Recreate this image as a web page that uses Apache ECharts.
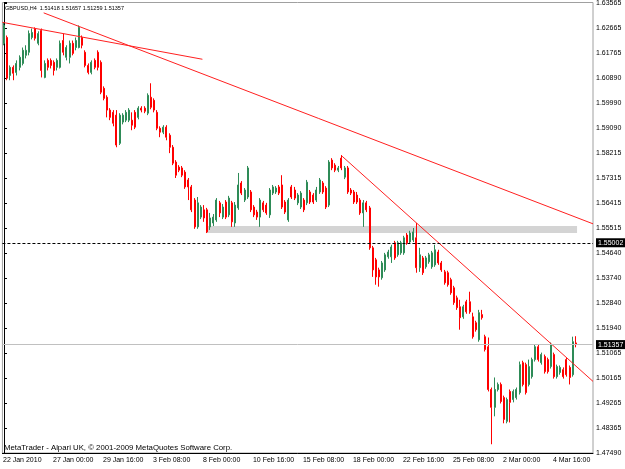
<!DOCTYPE html>
<html>
<head>
<meta charset="utf-8">
<title>GBPUSD,H4</title>
<script src="https://cdn.jsdelivr.net/npm/echarts/dist/echarts.min.js"></script>
<style>
  html, body { margin: 0; padding: 0; background: #fff; }
  #main { width: 625px; height: 469px; }
</style>
</head>
<body>
<div id="main"></div>
<script>
// H4 bars, each row: open, high, low, close
const bars = [
  [1.6214, 1.6289, 1.6207, 1.6278], [1.6235, 1.6242, 1.6082, 1.6089], [1.6099, 1.6135, 1.6082, 1.6128], [1.6128, 1.6135, 1.6082, 1.6107],
  [1.6110, 1.6153, 1.6099, 1.6142], [1.6128, 1.6171, 1.6117, 1.6164], [1.6142, 1.6199, 1.6135, 1.6189], [1.6171, 1.6207, 1.6160, 1.6189],
  [1.6182, 1.6260, 1.6171, 1.6249], [1.6235, 1.6267, 1.6228, 1.6253], [1.6267, 1.6271, 1.6224, 1.6232], [1.6214, 1.6257, 1.6207, 1.6249],
  [1.6260, 1.6267, 1.6092, 1.6117], [1.6092, 1.6153, 1.6089, 1.6142], [1.6153, 1.6160, 1.6117, 1.6128], [1.6153, 1.6160, 1.6124, 1.6135],
  [1.6146, 1.6153, 1.6099, 1.6117], [1.6128, 1.6160, 1.6117, 1.6153], [1.6128, 1.6224, 1.6124, 1.6214], [1.6224, 1.6249, 1.6171, 1.6182],
  [1.6164, 1.6207, 1.6153, 1.6199], [1.6164, 1.6224, 1.6142, 1.6214], [1.6214, 1.6224, 1.6171, 1.6178], [1.6199, 1.6235, 1.6189, 1.6224],
  [1.6199, 1.6278, 1.6196, 1.6271], [1.6235, 1.6242, 1.6196, 1.6207], [1.6182, 1.6189, 1.6128, 1.6135], [1.6135, 1.6142, 1.6103, 1.6110],
  [1.6110, 1.6153, 1.6103, 1.6146], [1.6153, 1.6160, 1.6121, 1.6128], [1.6182, 1.6189, 1.6117, 1.6128], [1.6146, 1.6153, 1.6032, 1.6039],
  [1.6053, 1.6060, 1.6010, 1.6017], [1.6021, 1.6028, 1.5949, 1.5975], [1.5975, 1.5982, 1.5939, 1.5949], [1.5967, 1.5975, 1.5917, 1.5928],
  [1.5957, 1.5975, 1.5842, 1.5850], [1.5856, 1.5964, 1.5850, 1.5957], [1.5932, 1.5964, 1.5924, 1.5957], [1.5939, 1.5975, 1.5932, 1.5967],
  [1.5939, 1.5982, 1.5932, 1.5975], [1.5939, 1.5967, 1.5903, 1.5921], [1.5967, 1.5975, 1.5907, 1.5914], [1.5949, 1.5989, 1.5942, 1.5982],
  [1.5982, 1.5989, 1.5967, 1.5975], [1.5982, 1.5989, 1.5964, 1.5971], [1.5964, 1.6035, 1.5957, 1.6028], [1.6021, 1.6071, 1.5978, 1.5985],
  [1.6010, 1.6017, 1.5967, 1.5975], [1.5967, 1.5975, 1.5903, 1.5910], [1.5910, 1.5917, 1.5878, 1.5896], [1.5896, 1.5921, 1.5889, 1.5914],
  [1.5914, 1.5921, 1.5867, 1.5878], [1.5885, 1.5892, 1.5821, 1.5842], [1.5842, 1.5850, 1.5778, 1.5785], [1.5789, 1.5796, 1.5732, 1.5742],
  [1.5771, 1.5778, 1.5753, 1.5760], [1.5768, 1.5775, 1.5735, 1.5742], [1.5753, 1.5760, 1.5693, 1.5700], [1.5725, 1.5732, 1.5653, 1.5700],
  [1.5700, 1.5707, 1.5610, 1.5618], [1.5653, 1.5660, 1.5550, 1.5557], [1.5557, 1.5664, 1.5550, 1.5643], [1.5592, 1.5635, 1.5585, 1.5628],
  [1.5618, 1.5635, 1.5575, 1.5589], [1.5618, 1.5625, 1.5535, 1.5539], [1.5557, 1.5607, 1.5546, 1.5589], [1.5571, 1.5603, 1.5560, 1.5592],
  [1.5582, 1.5660, 1.5575, 1.5653], [1.5643, 1.5650, 1.5592, 1.5607], [1.5592, 1.5639, 1.5585, 1.5628], [1.5646, 1.5653, 1.5585, 1.5592],
  [1.5600, 1.5668, 1.5592, 1.5660], [1.5643, 1.5650, 1.5557, 1.5575], [1.5571, 1.5646, 1.5557, 1.5635], [1.5625, 1.5750, 1.5618, 1.5707],
  [1.5714, 1.5721, 1.5671, 1.5678], [1.5653, 1.5696, 1.5646, 1.5689], [1.5664, 1.5775, 1.5657, 1.5768], [1.5682, 1.5689, 1.5610, 1.5618],
  [1.5628, 1.5635, 1.5592, 1.5600], [1.5610, 1.5618, 1.5582, 1.5592], [1.5592, 1.5660, 1.5557, 1.5653], [1.5643, 1.5650, 1.5610, 1.5618],
  [1.5635, 1.5643, 1.5600, 1.5607], [1.5600, 1.5696, 1.5589, 1.5689], [1.5678, 1.5707, 1.5671, 1.5700], [1.5682, 1.5703, 1.5675, 1.5696],
  [1.5700, 1.5707, 1.5671, 1.5678], [1.5707, 1.5742, 1.5621, 1.5628], [1.5646, 1.5653, 1.5603, 1.5610], [1.5582, 1.5660, 1.5575, 1.5653],
  [1.5700, 1.5707, 1.5657, 1.5664], [1.5689, 1.5700, 1.5653, 1.5660], [1.5643, 1.5678, 1.5635, 1.5671], [1.5628, 1.5685, 1.5621, 1.5678],
  [1.5653, 1.5660, 1.5610, 1.5618], [1.5643, 1.5725, 1.5635, 1.5717], [1.5682, 1.5689, 1.5639, 1.5646], [1.5671, 1.5678, 1.5639, 1.5646],
  [1.5653, 1.5700, 1.5646, 1.5689], [1.5682, 1.5732, 1.5675, 1.5725], [1.5714, 1.5721, 1.5675, 1.5682], [1.5696, 1.5703, 1.5621, 1.5628],
  [1.5635, 1.5796, 1.5628, 1.5789], [1.5796, 1.5803, 1.5760, 1.5768], [1.5778, 1.5785, 1.5753, 1.5760], [1.5760, 1.5775, 1.5753, 1.5768],
  [1.5803, 1.5814, 1.5760, 1.5768], [1.5735, 1.5775, 1.5728, 1.5768], [1.5768, 1.5775, 1.5675, 1.5682], [1.5689, 1.5696, 1.5671, 1.5678],
  [1.5682, 1.5689, 1.5639, 1.5646], [1.5671, 1.5682, 1.5639, 1.5646], [1.5653, 1.5660, 1.5600, 1.5607], [1.5607, 1.5653, 1.5557, 1.5643],
  [1.5643, 1.5650, 1.5610, 1.5618], [1.5625, 1.5632, 1.5475, 1.5482], [1.5482, 1.5489, 1.5378, 1.5403], [1.5439, 1.5446, 1.5350, 1.5378],
  [1.5403, 1.5411, 1.5343, 1.5378], [1.5375, 1.5435, 1.5368, 1.5428], [1.5403, 1.5464, 1.5396, 1.5457], [1.5450, 1.5475, 1.5443, 1.5467],
  [1.5450, 1.5493, 1.5428, 1.5485], [1.5500, 1.5507, 1.5439, 1.5446], [1.5457, 1.5507, 1.5450, 1.5500], [1.5464, 1.5507, 1.5457, 1.5500],
  [1.5464, 1.5525, 1.5457, 1.5518], [1.5528, 1.5535, 1.5493, 1.5500], [1.5503, 1.5543, 1.5496, 1.5535], [1.5510, 1.5553, 1.5503, 1.5539],
  [1.5518, 1.5571, 1.5393, 1.5411], [1.5411, 1.5482, 1.5396, 1.5457], [1.5446, 1.5453, 1.5385, 1.5393], [1.5414, 1.5453, 1.5407, 1.5446],
  [1.5432, 1.5464, 1.5425, 1.5457], [1.5414, 1.5471, 1.5407, 1.5464], [1.5421, 1.5493, 1.5414, 1.5475], [1.5467, 1.5475, 1.5421, 1.5428],
  [1.5428, 1.5435, 1.5396, 1.5403], [1.5396, 1.5403, 1.5350, 1.5357], [1.5393, 1.5400, 1.5343, 1.5350], [1.5368, 1.5375, 1.5314, 1.5321],
  [1.5339, 1.5346, 1.5278, 1.5286], [1.5303, 1.5311, 1.5260, 1.5268], [1.5271, 1.5296, 1.5189, 1.5232], [1.5235, 1.5278, 1.5228, 1.5271],
  [1.5289, 1.5296, 1.5246, 1.5253], [1.5289, 1.5325, 1.5246, 1.5253], [1.5235, 1.5250, 1.5157, 1.5164], [1.5214, 1.5221, 1.5182, 1.5189],
  [1.5153, 1.5260, 1.5146, 1.5250], [1.5243, 1.5260, 1.5225, 1.5232], [1.5164, 1.5171, 1.5111, 1.5118], [1.5128, 1.5161, 1.4968, 1.4975],
  [1.4975, 1.4982, 1.4779, 1.4911], [1.4911, 1.5018, 1.4879, 1.4975], [1.4975, 1.5000, 1.4968, 1.4993], [1.4993, 1.5000, 1.4925, 1.4932],
  [1.4946, 1.4953, 1.4854, 1.4868], [1.4861, 1.4946, 1.4854, 1.4939], [1.4968, 1.4975, 1.4857, 1.4929], [1.4939, 1.4975, 1.4929, 1.4968],
  [1.4946, 1.4982, 1.4939, 1.4975], [1.4964, 1.5075, 1.4957, 1.5064], [1.5071, 1.5078, 1.4986, 1.4993], [1.5064, 1.5071, 1.4957, 1.4964],
  [1.4993, 1.5082, 1.4986, 1.5057], [1.5021, 1.5089, 1.5014, 1.5082], [1.5082, 1.5135, 1.5075, 1.5128], [1.5128, 1.5135, 1.5075, 1.5082],
  [1.5071, 1.5107, 1.5064, 1.5100], [1.5093, 1.5100, 1.5032, 1.5039], [1.5082, 1.5089, 1.5032, 1.5039], [1.5057, 1.5143, 1.5050, 1.5135],
  [1.5100, 1.5107, 1.5014, 1.5021], [1.5021, 1.5064, 1.5014, 1.5057], [1.5036, 1.5061, 1.5028, 1.5054], [1.5046, 1.5054, 1.5014, 1.5021],
  [1.5082, 1.5089, 1.5021, 1.5028], [1.5054, 1.5061, 1.4993, 1.5018], [1.5028, 1.5164, 1.5021, 1.5146], [1.51418, 1.51657, 1.51259, 1.51357]
];

// x axis labels, one every 16 bars
const timeLabels = ["22 Jan 2010", "27 Jan 00:00", "29 Jan 16:00", "3 Feb 08:00", "8 Feb 00:00", "10 Feb 16:00",
  "15 Feb 08:00", "18 Feb 00:00", "22 Feb 16:00", "25 Feb 08:00", "2 Mar 00:00", "4 Mar 16:00"];
const labelEvery = 16;
const shiftBars = 5; // empty space right of last bar

// price scale labels, bottom to top
const priceTicks = ["1.47490", "1.48365", "1.49265", "1.50165", "1.51065", "1.51940", "1.52840", "1.53740", "1.54640",
  "1.55515", "1.56415", "1.57315", "1.58215", "1.59090", "1.59990", "1.60890", "1.61765", "1.62665", "1.63565"];
const yMin = 1.47477;
const yStep = 0.008938;
const yMax = 1.63601;

// horizontal levels
const levelLine = 1.55002;
const bidLine = 1.51357;

// trend lines [barIndex, price]
const trendLines = [
  [[-0.5, 1.6289], [63.5, 1.6157]],
  [[12.7, 1.6323], [188.5, 1.5568]],
  [[108.2, 1.5810], [188.5, 1.5004]]
];
// support zone rectangle
const zone = { from: 64.8, to: 183.4, top: 1.5560, bottom: 1.5535 };

const head = "GBPUSD,H4  1.51418 1.51657 1.51259 1.51357";
const foot = "MetaTrader - Alpari UK, \u00a9 2001-2009 MetaQuotes Software Corp.";

const nCat = bars.length + shiftBars;
const cats = [];
for (let i = 0; i < nCat; i++) {
  cats.push(i % labelEvery === 0 && timeLabels[i / labelEvery] ? timeLabels[i / labelEvery] : "");
}
const candles = bars.map(b => [b[0], b[3], b[2], b[1]]);

const font = "Liberation Sans";
const myChart = echarts.init(document.getElementById("main"));

const series = [
  {
    name: "zone",
    type: "line",
    xAxisIndex: 1,
    data: [],
    z: 1,
    markArea: {
      silent: true,
      itemStyle: { color: "#d4d4d4" },
      data: [[{ coord: [zone.from, zone.top] }, { coord: [zone.to, zone.bottom] }]]
    }
  },
  {
    name: "GBPUSD",
    type: "candlestick",
    data: candles,
    barWidth: 1.5,
    z: 3,
    itemStyle: {
      color: "#2e8b57",
      color0: "#ff0000",
      borderColor: "#2e8b57",
      borderColor0: "#ff0000",
      borderWidth: 1
    },
    markLine: {
      silent: true,
      symbol: ["none", "none"],
      precision: 5,
      animation: false,
      label: {
        position: "end",
        distance: 3,
        color: "#fff",
        backgroundColor: "#000",
        padding: [1, 2, 1, 2],
        fontSize: 7,
        fontFamily: font,
        formatter: p => Number(p.value).toFixed(5)
      },
      data: [
        { yAxis: levelLine, lineStyle: { color: "#000", type: [3, 2], width: 1 } },
        { yAxis: bidLine, lineStyle: { color: "#c0c0c0", type: "solid", width: 1 } }
      ]
    }
  }
];
trendLines.forEach(function(t) {
  series.push({
    type: "line",
    xAxisIndex: 1,
    data: t,
    symbol: "none",
    silent: true,
    z: 4,
    lineStyle: { color: "#ff2020", width: 1 }
  });
});

myChart.setOption({
  animation: false,
  backgroundColor: "#fff",
  grid: {
    left: 2,
    right: 32,
    top: 2,
    bottom: 16,
    show: true,
    borderColor: "#a0a0a0",
    borderWidth: 1,
    backgroundColor: "#fff"
  },
  xAxis: [
    {
      type: "category",
      data: cats,
      boundaryGap: true,
      axisLine: { lineStyle: { color: "#000", width: 1 } },
      axisTick: {
        alignWithLabel: true,
        interval: i => i % labelEvery === 0 && i < bars.length,
        length: 3,
        lineStyle: { color: "#000" }
      },
      axisLabel: {
        interval: i => i % labelEvery === 0,
        align: "left",
        margin: 4,
        padding: [0, 0, 0, -1],
        fontSize: 7,
        fontFamily: font,
        color: "#000"
      },
      splitLine: { show: false }
    },
    {
      type: "value",
      min: -0.5,
      max: nCat - 0.5,
      show: false
    }
  ],
  yAxis: {
    type: "value",
    position: "right",
    min: yMin,
    max: yMax,
    interval: yStep,
    axisLine: { show: true, lineStyle: { color: "#000", width: 1 } },
    axisTick: { show: true, length: 3, lineStyle: { color: "#000" } },
    splitLine: { show: false },
    axisLabel: {
      margin: 3,
      fontSize: 7,
      fontFamily: font,
      color: "#000",
      formatter: function(v) {
        const k = Math.round((v - yMin) / yStep);
        if (Math.abs(v - (yMin + k * yStep)) > yStep * 0.01) return "";
        return priceTicks[k] || "";
      }
    }
  },
  graphic: [
    {
      type: "text",
      left: 5,
      top: 5,
      z: 10,
      style: { text: head, fontSize: 5.5, fontFamily: font, fill: "#000" }
    },
    {
      type: "text",
      left: 4,
      top: 444,
      z: 10,
      style: { text: foot, fontSize: 7.8, fontFamily: font, fill: "#000" }
    }
  ],
  series: series
});
</script>
</body>
</html>
